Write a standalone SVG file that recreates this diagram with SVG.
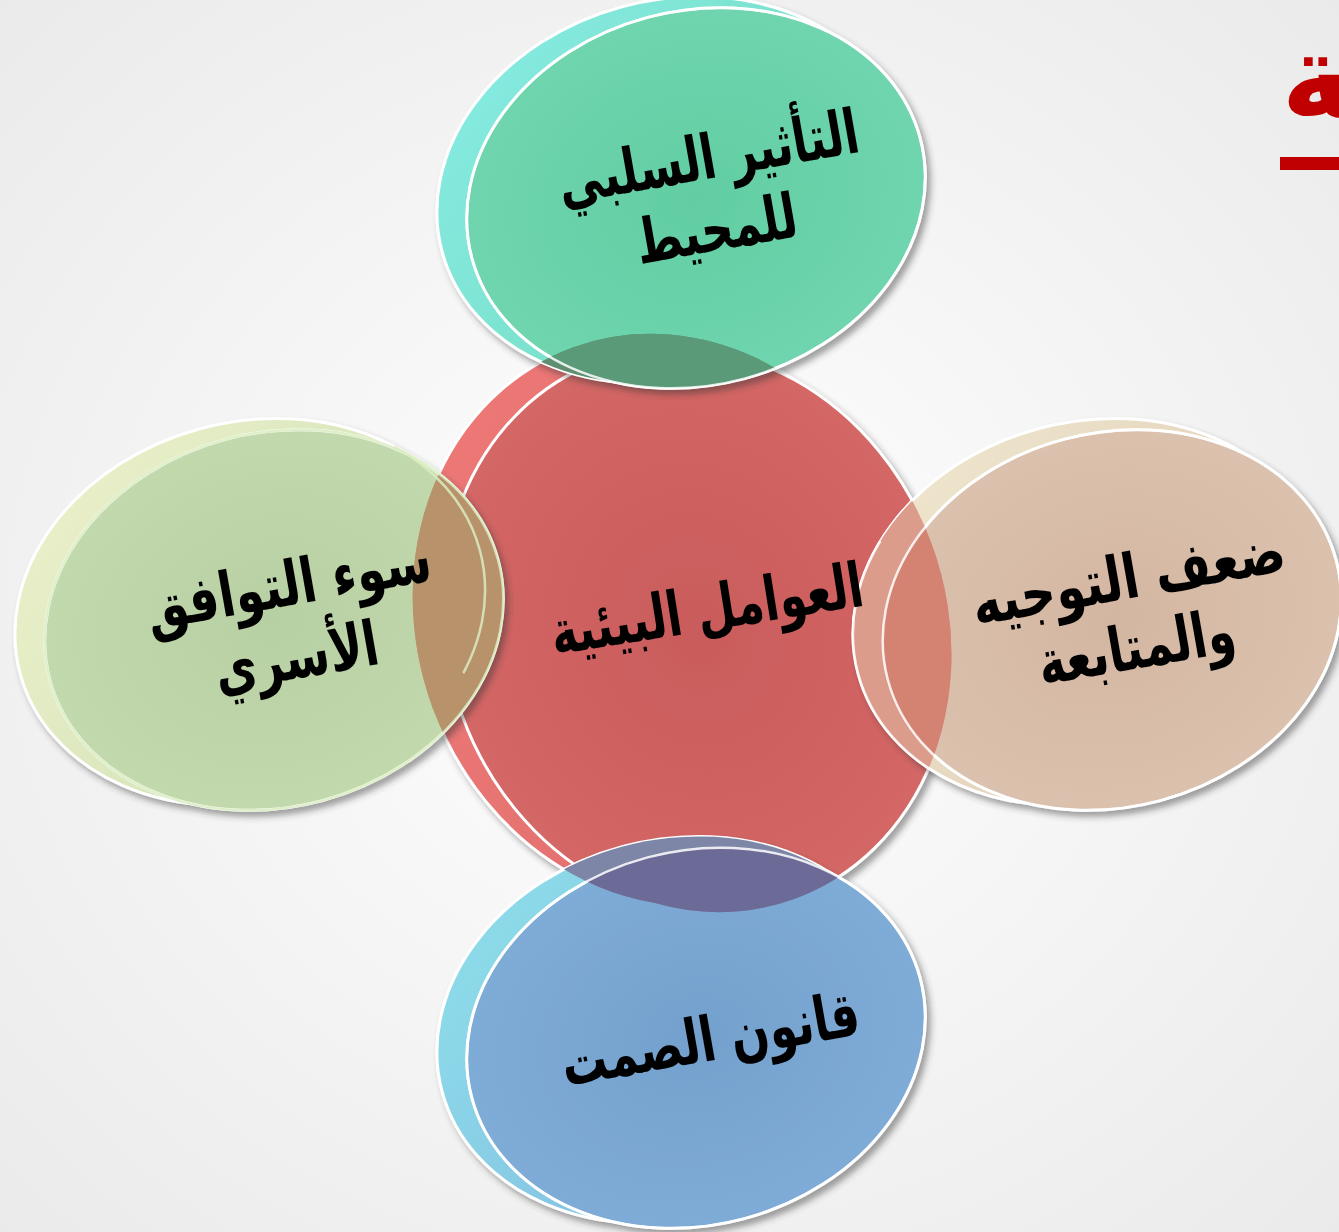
<svg xmlns="http://www.w3.org/2000/svg" width="1339" height="1232" viewBox="0 0 1339 1232">
<defs>
<radialGradient id="bg" cx="50%" cy="50%" r="75%">
<stop offset="0" stop-color="#ffffff"/><stop offset="1" stop-color="#e9e9e9"/>
</radialGradient>
<filter id="sh" x="-20%" y="-20%" width="140%" height="140%">
<feDropShadow dx="4" dy="5" stdDeviation="3" flood-color="#333" flood-opacity="0.45"/>
</filter>
<clipPath id="redClip">
<ellipse cx="672" cy="620" rx="255" ry="290" transform="rotate(-20 672 620)"/>
<ellipse cx="697" cy="630" rx="250" ry="286" transform="rotate(-20 697 630)"/>
</clipPath>
<radialGradient id="gRed" cx="50%" cy="50%" r="55%"><stop offset="0" stop-color="#c95c5b"/><stop offset="1" stop-color="#d56867"/></radialGradient>
<linearGradient id="bRed" x1="0" y1="0" x2="1" y2="1"><stop offset="0" stop-color="#f07a78"/><stop offset="1" stop-color="#d86a69"/></linearGradient>
<radialGradient id="gGreen" cx="50%" cy="50%" r="55%"><stop offset="0" stop-color="#62cda2"/><stop offset="1" stop-color="#70d6b0"/></radialGradient>
<linearGradient id="bGreen" x1="0" y1="0" x2="1" y2="1"><stop offset="0" stop-color="#88ece6"/><stop offset="1" stop-color="#6fd8b4"/></linearGradient>
<radialGradient id="gLeft" cx="50%" cy="50%" r="55%"><stop offset="0" stop-color="#b7d0a3"/><stop offset="1" stop-color="#c3d9ae"/></radialGradient>
<linearGradient id="bLeft" x1="0" y1="0" x2="1" y2="1"><stop offset="0" stop-color="#eef2cc"/><stop offset="1" stop-color="#c8dcb0"/></linearGradient>
<radialGradient id="gRight" cx="50%" cy="50%" r="55%"><stop offset="0" stop-color="#d3b6a1"/><stop offset="1" stop-color="#dcc3af"/></radialGradient>
<linearGradient id="bRight" x1="0" y1="0" x2="1" y2="1"><stop offset="0" stop-color="#f0ead0"/><stop offset="1" stop-color="#dcc4b0"/></linearGradient>
<radialGradient id="gBlue" cx="50%" cy="50%" r="55%"><stop offset="0" stop-color="#74a0cd"/><stop offset="1" stop-color="#80acd8"/></radialGradient>
<linearGradient id="bBlue" x1="0" y1="0" x2="1" y2="1"><stop offset="0" stop-color="#8ee2ea"/><stop offset="1" stop-color="#80aee0"/></linearGradient>
</defs>
<style>
.rim{stroke:#ffffff;stroke-width:3}
.edge{fill:none;stroke:#ffffff;stroke-width:2.5;stroke-opacity:0.85}
.lbl{font-family:"DejaVu Sans",sans-serif;font-weight:bold;font-size:62px;fill:#000;text-anchor:middle}
</style>
<rect width="1339" height="1232" fill="url(#bg)"/>
<g id="title">
<text x="1281" y="118" direction="rtl" text-anchor="end" font-family="DejaVu Sans, sans-serif" font-weight="bold" font-size="118" fill="#c00000">بيئية</text>
<rect x="1280" y="157" width="59" height="13" fill="#c00000"/>
</g>
<g id="node-center" filter="url(#sh)">
<ellipse cx="672" cy="620" rx="255" ry="290" transform="rotate(-20 672 620)" fill="url(#bRed)" class="rim"/>
<ellipse cx="697" cy="630" rx="250" ry="286" transform="rotate(-20 697 630)" fill="url(#gRed)" class="rim"/>
</g>
<g id="node-top">
<g filter="url(#sh)">
<ellipse cx="672" cy="190" rx="238" ry="190" transform="rotate(-15 672 190)" fill="url(#bGreen)" class="rim"/>
<ellipse cx="696" cy="198" rx="232" ry="187" transform="rotate(-15 696 198)" fill="url(#gGreen)" class="rim"/>
</g>
<g clip-path="url(#redClip)">
<ellipse cx="672" cy="190" rx="238" ry="190" transform="rotate(-15 672 190)" fill="#5e8f70"/>
<ellipse cx="696" cy="198" rx="232" ry="187" transform="rotate(-15 696 198)" fill="#5a9a78"/>
</g>
<ellipse cx="696" cy="198" rx="232" ry="187" transform="rotate(-15 696 198)" class="edge"/>
</g>
<g id="node-left">
<g filter="url(#sh)">
<ellipse cx="250" cy="612" rx="238" ry="190" transform="rotate(-15 250 612)" fill="url(#bLeft)" class="rim"/>
<ellipse cx="274" cy="620" rx="232" ry="187" transform="rotate(-15 274 620)" fill="url(#gLeft)" class="rim"/>
</g>
<g clip-path="url(#redClip)">
<ellipse cx="250" cy="612" rx="238" ry="190" transform="rotate(-15 250 612)" fill="#c0a070"/>
<ellipse cx="274" cy="620" rx="232" ry="187" transform="rotate(-15 274 620)" fill="#b8926a"/>
</g>
<ellipse cx="250" cy="612" rx="238" ry="190" transform="rotate(-15 250 612)" class="edge" style="stroke:#d8ecc0" clip-path="url(#redClip)"/>
<ellipse cx="274" cy="620" rx="232" ry="187" transform="rotate(-15 274 620)" class="edge" style="stroke:#d8ecc0"/>
</g>
<g id="node-right">
<g filter="url(#sh)">
<ellipse cx="1088" cy="612" rx="238" ry="190" transform="rotate(-15 1088 612)" fill="url(#bRight)" class="rim"/>
<ellipse cx="1112" cy="620" rx="232" ry="187" transform="rotate(-15 1112 620)" fill="url(#gRight)" class="rim"/>
</g>
<g clip-path="url(#redClip)">
<ellipse cx="1088" cy="612" rx="238" ry="190" transform="rotate(-15 1088 612)" fill="#dc9c8c"/>
<ellipse cx="1112" cy="620" rx="232" ry="187" transform="rotate(-15 1112 620)" fill="#d48272"/>
</g>
<ellipse cx="1088" cy="612" rx="238" ry="190" transform="rotate(-15 1088 612)" class="edge" clip-path="url(#redClip)"/>
<ellipse cx="1112" cy="620" rx="232" ry="187" transform="rotate(-15 1112 620)" class="edge"/>
</g>
<g id="node-bottom">
<g filter="url(#sh)">
<ellipse cx="672" cy="1030" rx="238" ry="190" transform="rotate(-15 672 1030)" fill="url(#bBlue)" class="rim"/>
<ellipse cx="696" cy="1038" rx="232" ry="187" transform="rotate(-15 696 1038)" fill="url(#gBlue)" class="rim"/>
</g>
<g clip-path="url(#redClip)">
<ellipse cx="672" cy="1030" rx="238" ry="190" transform="rotate(-15 672 1030)" fill="#7e86a8"/>
<ellipse cx="696" cy="1038" rx="232" ry="187" transform="rotate(-15 696 1038)" fill="#6c6a96"/>
</g>
<ellipse cx="696" cy="1038" rx="232" ry="187" transform="rotate(-15 696 1038)" class="edge"/>
</g>
<g id="labels">
<text class="lbl" transform="translate(712 178) rotate(-10) scale(0.72 1)">التأثير السلبي</text>
<text class="lbl" transform="translate(720 250) rotate(-10) scale(0.72 1)">للمحيط</text>
<text class="lbl" transform="translate(710 630) rotate(-9) scale(0.72 1)">العوامل البيئية</text>
<text class="lbl" transform="translate(292 605) rotate(-10) scale(0.76 1)">سوء التوافق</text>
<text class="lbl" transform="translate(300 678) rotate(-10) scale(0.74 1)">الأسري</text>
<text class="lbl" transform="translate(1132 598) rotate(-10) scale(0.78 1)">ضعف التوجيه</text>
<text class="lbl" transform="translate(1140 668) rotate(-10) scale(0.74 1)">والمتابعة</text>
<text class="lbl" transform="translate(714 1060) rotate(-10) scale(0.73 1)">قانون الصمت</text>
</g>
<g id="connectors"/>
</svg>
